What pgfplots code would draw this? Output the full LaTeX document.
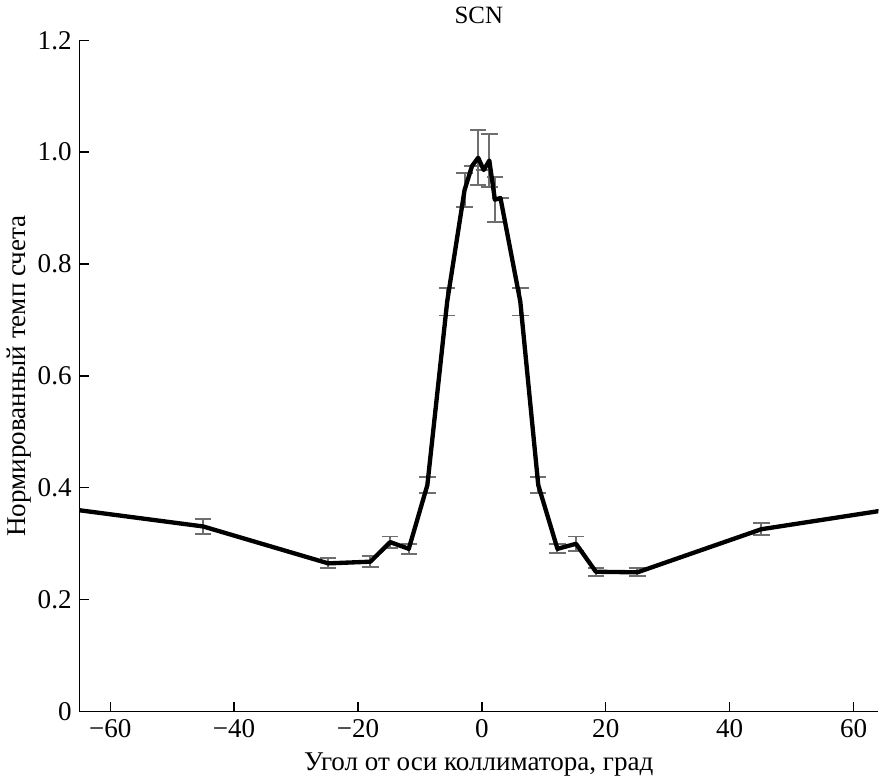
\documentclass[border=0pt]{standalone}
\usepackage{pgfplots}
\pgfplotsset{compat=1.18}
\usepackage{pgfplotstable}
\usepackage{fontspec}
\setmainfont{Liberation Serif}
\definecolor{errgray}{RGB}{110,110,110}
\pgfplotstableread{
x y e
-65 0.360 0
-45.0 0.331 0.013
-24.8 0.265 0.009
-18.0 0.268 0.010
-14.8 0.303 0.010
-11.8 0.291 0.009
-8.8 0.405 0.014
-5.6 0.733 0.025
-2.8 0.932 0.030
-1.6 0.975 0.000
-0.6 0.990 0.049
0.3 0.968 0.000
1.2 0.985 0.047
2.1 0.915 0.040
3.0 0.918 0.000
6.2 0.733 0.025
9.1 0.405 0.014
12.2 0.291 0.008
15.2 0.300 0.013
18.4 0.250 0.007
25.1 0.249 0.007
45.1 0.326 0.011
65 0.360 0
}\data
\begin{document}
\begin{tikzpicture}
\begin{axis}[
  scale only axis,
  width=369pt, height=310pt,
  xmin=-65, xmax=64, ymin=0, ymax=1.2,
  axis x line*=bottom, axis y line*=left,
  axis line style={-, line width=0.6pt},
  tick align=inside,
  major tick length=4.5pt,
  tick style={line width=0.6pt, black},
  xtick={-60,-40,-20,0,20,40,60},
  xticklabels={−60,−40,−20,0,20,40,60},
  ytick={0,0.2,0.4,0.6,0.8,1.0,1.2},
  yticklabels={0,0.2,0.4,0.6,0.8,1.0,1.2},
  ticklabel style={font=\fontsize{12.5}{14}\selectfont},
  xlabel={Угол от оси коллиматора, град},
  ylabel={Нормированный темп счета},
  label style={font=\fontsize{12.5}{14}\selectfont},
  xlabel style={yshift=0pt},
  ylabel style={yshift=-4pt},
  title={SCN},
  title style={font=\fontsize{11.5}{13}\selectfont, yshift=-2pt},
  clip=true,
]
\addplot[draw=none, mark=none, forget plot,
  error bars/.cd, y dir=both, y explicit,
  error bar style={draw=errgray, line width=0.9pt},
  error mark options={rotate=90, mark size=3.8pt, line width=0.9pt, draw=errgray}]
  table[x=x, y=y, y error=e]{\data};
\addplot[black, line width=2pt, mark=none, line join=round] table[x=x, y=y]{\data};
\end{axis}
\end{tikzpicture}
\end{document}
